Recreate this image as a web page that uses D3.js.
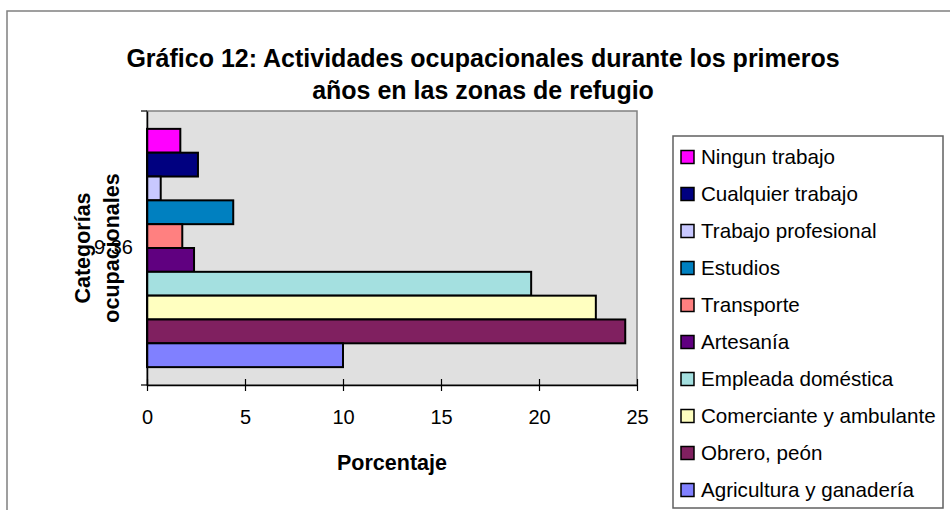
<!DOCTYPE html>
<html>
<head>
<meta charset="utf-8">
<script src="https://cdn.jsdelivr.net/npm/d3@7"></script>
<style>
  body { margin: 0; background: #fff; }
  svg text { font-family: "Liberation Sans", Arial, sans-serif; fill: #000; }
</style>
</head>
<body>
<svg id="chart" width="950" height="510"></svg>
<script>
// series, top to bottom as drawn
var series = ['Ningun trabajo', 'Cualquier trabajo', 'Trabajo profesional', 'Estudios',
  'Transporte', 'Artesanía', 'Empleada doméstica', 'Comerciante y ambulante',
  'Obrero, peón', 'Agricultura y ganadería'];
var values = [1.7, 2.6, 0.7, 4.4, 1.8, 2.4, 19.6, 22.9, 24.4, 10.0];
var colors = ['#ff00ff', '#000080', '#c8c8ff', '#0080c0', '#ff8080', '#600080',
  '#a4e0e0', '#ffffc0', '#802060', '#8080ff'];
var categoryLabels = ['9:36'];
var xTicks = [0, 5, 10, 15, 20, 25];

var svg = d3.select('#chart');

// outer chart border
svg.append('rect')
  .attr('x', 7).attr('y', 11)
  .attr('width', 960).attr('height', 520)
  .attr('fill', '#fff')
  .attr('stroke', '#808080')
  .attr('stroke-width', 1.5);

// title
var title = svg.append('text')
  .attr('text-anchor', 'middle')
  .style('font-weight', 'bold')
  .style('font-size', '25px');
title.append('tspan').attr('x', 483).attr('y', 67)
  .text('Gráfico 12: Actividades ocupacionales durante los primeros');
title.append('tspan').attr('x', 483).attr('y', 99)
  .text('años en las zonas de refugio');

var plot = {left: 147, right: 637, top: 111, bottom: 385};

var x = d3.scaleLinear().domain([0, 25]).range([plot.left, plot.right]);
var y = d3.scaleBand().domain(series).range([plot.top, plot.bottom])
  .paddingInner(0).paddingOuter(0.75);
var yCat = d3.scaleBand().domain(categoryLabels).range([plot.top, plot.bottom]);

// plot area
svg.append('rect')
  .attr('x', plot.left).attr('y', plot.top)
  .attr('width', plot.right - plot.left).attr('height', plot.bottom - plot.top)
  .attr('fill', '#e0e0e0')
  .attr('stroke', '#808080')
  .attr('stroke-width', 1.5);

// bars
svg.selectAll('rect.bar')
  .data(series)
  .enter()
  .append('rect')
  .attr('class', 'bar')
  .attr('x', x(0))
  .attr('y', function(d) { return y(d); })
  .attr('width', function(d, i) { return x(values[i]) - x(0); })
  .attr('height', y.bandwidth())
  .attr('fill', function(d, i) { return colors[i]; })
  .attr('stroke', '#000')
  .attr('stroke-width', 2);

// x axis
var xAxis = svg.append('g')
  .attr('transform', 'translate(0,' + plot.bottom + ')')
  .call(d3.axisBottom(x).tickValues(xTicks).tickSizeInner(6).tickSizeOuter(0).tickPadding(19));
xAxis.select('.domain').attr('stroke', '#000').attr('stroke-width', 1.5);
xAxis.selectAll('.tick line')
  .attr('y1', -6).attr('y2', 6)
  .attr('stroke-width', 1.2);
xAxis.selectAll('.tick text')
  .style('font-size', '20px')
  .style('font-family', '"Liberation Sans", Arial, sans-serif');

// y axis
var yAxis = svg.append('g')
  .attr('transform', 'translate(' + plot.left + ',0)')
  .call(d3.axisLeft(yCat).tickSize(0).tickPadding(14));
yAxis.select('.domain').attr('stroke', '#000').attr('stroke-width', 1.5);
yAxis.selectAll('.tick text')
  .style('font-size', '20px')
  .style('font-family', '"Liberation Sans", Arial, sans-serif');
// category boundary ticks
yAxis.selectAll('line.bound')
  .data(yCat.range())
  .enter()
  .append('line')
  .attr('class', 'bound')
  .attr('x1', -6).attr('x2', 0)
  .attr('y1', function(d) { return d; })
  .attr('y2', function(d) { return d; })
  .attr('stroke', '#000')
  .attr('stroke-width', 1.2);

// axis titles
svg.append('text')
  .attr('x', x(12.5)).attr('y', 470)
  .attr('text-anchor', 'middle')
  .style('font-weight', 'bold')
  .style('font-size', '21.5px')
  .text('Porcentaje');

var yTitle = svg.append('text')
  .attr('transform', 'translate(0,' + (plot.top + plot.bottom) / 2 + ') rotate(-90)')
  .attr('text-anchor', 'middle')
  .style('font-weight', 'bold')
  .style('font-size', '21.5px');
yTitle.append('tspan').attr('x', 0).attr('y', 90).text('Categorías');
yTitle.append('tspan').attr('x', 0).attr('y', 119).text('ocupacionales');

// legend
var legend = svg.append('g').attr('transform', 'translate(673,136)');
legend.append('rect')
  .attr('x', 0).attr('y', 0)
  .attr('width', 270).attr('height', 372)
  .attr('fill', '#fff')
  .attr('stroke', '#606060')
  .attr('stroke-width', 1.5);

var item = legend.selectAll('g.item')
  .data(series)
  .enter()
  .append('g')
  .attr('class', 'item')
  .attr('transform', function(d, i) { return 'translate(0,' + (21 + i * 37) + ')'; });
item.append('rect')
  .attr('x', 8).attr('y', -6.5)
  .attr('width', 13).attr('height', 13)
  .attr('fill', function(d, i) { return colors[i]; })
  .attr('stroke', '#000')
  .attr('stroke-width', 1.5);
item.append('text')
  .attr('x', 28).attr('y', 7)
  .style('font-size', '20.6px')
  .text(function(d) { return d; });
</script>
</body>
</html>
